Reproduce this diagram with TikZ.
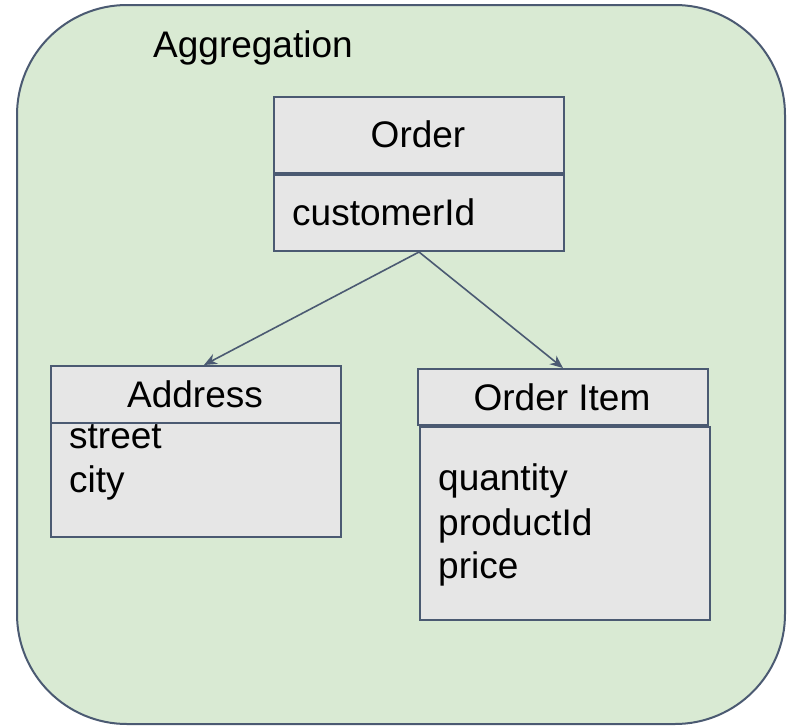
\documentclass[tikz,border=0pt]{standalone}
\usepackage{fontspec}
\setmainfont{Liberation Sans}
\usetikzlibrary{arrows.meta,calc}
\definecolor{panelgreen}{HTML}{D9EAD3}
\definecolor{boxgray}{HTML}{E6E6E6}
\definecolor{edgeslate}{HTML}{4B5A72}
\begin{document}
\begin{tikzpicture}[x=1pt,y=-1pt,
  umlbox/.style={draw=edgeslate, fill=boxgray, line width=2pt, rectangle,
                 inner sep=0pt, anchor=north west},
  txt/.style={font=\fontsize{37}{44.5}\selectfont, inner sep=0pt, text=black},
  link/.style={draw=edgeslate, line width=1.6pt, -{Stealth[length=13pt,width=11pt]}}]
\useasboundingbox (0,0) rectangle (790,726);

% aggregate boundary
\draw[draw=edgeslate, fill=panelgreen, line width=2pt, rounded corners=110pt]
  (17,5) rectangle (785,724);
\node[txt, anchor=base west] (agg) at (153,57) {Aggregation};

% Order class
\node[umlbox, minimum width=290pt, minimum height=76pt] (ordhead) at (273,96) {};
\node[umlbox, minimum width=290pt, minimum height=76pt] (ordbody) at (273,174) {};
\node[txt, anchor=base] (ordname) at (418,147) {Order};
\node[txt, anchor=base west] (custid) at (292,225) {customerId};

% Address class
\node[umlbox, minimum width=290pt, minimum height=114pt] (addrbody) at (50,422) {};
\node[umlbox, minimum width=290pt, minimum height=57pt] (addrhead) at (50,365) {};
\node[txt, anchor=base] (addrname) at (195,407) {Address};
\node[txt, anchor=base west] (street) at (69,448) {street};
\node[txt, anchor=base west] (city) at (69,492) {city};

% Order Item class
\node[umlbox, minimum width=290pt, minimum height=56pt] (itemhead) at (417,368) {};
\node[umlbox, minimum width=290pt, minimum height=193pt] (itembody) at (419,426) {};
\node[txt, anchor=base] (itemname) at (562,410) {Order Item};
\node[txt, anchor=base west] (qty) at (438,490) {quantity};
\node[txt, anchor=base west] (prod) at (438,535) {productId};
\node[txt, anchor=base west] (price) at (438,578) {price};

% associations
\draw[link] (ordbody.south) -- ($(addrhead.north)+(8,0)$);
\draw[link] (ordbody.south) -- (itemhead.north);
\end{tikzpicture}
\end{document}
